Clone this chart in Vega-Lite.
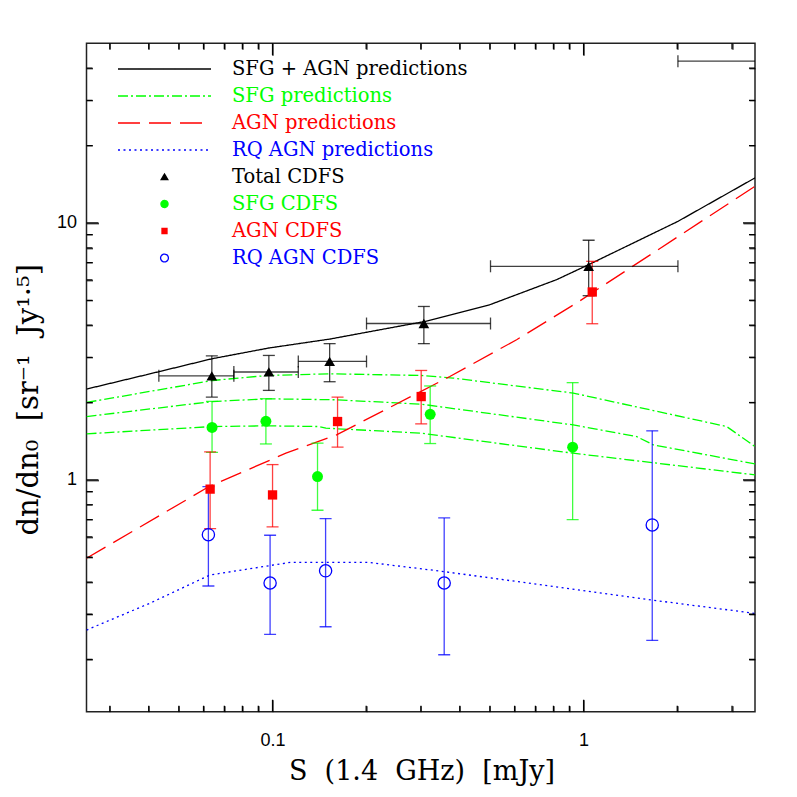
{
  "$schema": "https://vega.github.io/schema/vega-lite/v6.json",
  "width": 668.5,
  "height": 668.4,
  "autosize": {"type": "none"},
  "padding": {"left": 86.5, "top": 43.3, "right": 42, "bottom": 85.3},
  "background": "white",
  "datasets": {
    "curves": [
      {"series": "SFG + AGN predictions", "curve": "tot", "S": 0.02523, "N": 2.256},
      {"series": "SFG + AGN predictions", "curve": "tot", "S": 0.0434, "N": 2.642},
      {"series": "SFG + AGN predictions", "curve": "tot", "S": 0.0638, "N": 2.96},
      {"series": "SFG + AGN predictions", "curve": "tot", "S": 0.0973, "N": 3.26},
      {"series": "SFG + AGN predictions", "curve": "tot", "S": 0.153, "N": 3.533},
      {"series": "SFG + AGN predictions", "curve": "tot", "S": 0.3093, "N": 4.137},
      {"series": "SFG + AGN predictions", "curve": "tot", "S": 0.4997, "N": 4.806},
      {"series": "SFG + AGN predictions", "curve": "tot", "S": 0.8189, "N": 6.015},
      {"series": "SFG + AGN predictions", "curve": "tot", "S": 1.038, "N": 6.88},
      {"series": "SFG + AGN predictions", "curve": "tot", "S": 2.01, "N": 10.14},
      {"series": "SFG + AGN predictions", "curve": "tot", "S": 3.556, "N": 14.97},
      {"series": "SFG predictions", "curve": "sfg_up", "S": 0.02523, "N": 2.001},
      {"series": "SFG predictions", "curve": "sfg_up", "S": 0.0641, "N": 2.437},
      {"series": "SFG predictions", "curve": "sfg_up", "S": 0.0964, "N": 2.549},
      {"series": "SFG predictions", "curve": "sfg_up", "S": 0.1521, "N": 2.588},
      {"series": "SFG predictions", "curve": "sfg_up", "S": 0.2997, "N": 2.549},
      {"series": "SFG predictions", "curve": "sfg_up", "S": 0.3807, "N": 2.49},
      {"series": "SFG predictions", "curve": "sfg_up", "S": 0.926, "N": 2.177},
      {"series": "SFG predictions", "curve": "sfg_up", "S": 2.883, "N": 1.613},
      {"series": "SFG predictions", "curve": "sfg_up", "S": 3.556, "N": 1.348},
      {"series": "SFG predictions", "curve": "sfg_mid", "S": 0.02523, "N": 1.764},
      {"series": "SFG predictions", "curve": "sfg_mid", "S": 0.0641, "N": 2.018},
      {"series": "SFG predictions", "curve": "sfg_mid", "S": 0.0964, "N": 2.068},
      {"series": "SFG predictions", "curve": "sfg_mid", "S": 0.1598, "N": 2.05},
      {"series": "SFG predictions", "curve": "sfg_mid", "S": 0.2997, "N": 1.972},
      {"series": "SFG predictions", "curve": "sfg_mid", "S": 0.926, "N": 1.637},
      {"series": "SFG predictions", "curve": "sfg_mid", "S": 1.48, "N": 1.475},
      {"series": "SFG predictions", "curve": "sfg_mid", "S": 1.674, "N": 1.369},
      {"series": "SFG predictions", "curve": "sfg_mid", "S": 3.556, "N": 1.154},
      {"series": "SFG predictions", "curve": "sfg_lo", "S": 0.02523, "N": 1.511},
      {"series": "SFG predictions", "curve": "sfg_lo", "S": 0.0641, "N": 1.613},
      {"series": "SFG predictions", "curve": "sfg_lo", "S": 0.0964, "N": 1.623},
      {"series": "SFG predictions", "curve": "sfg_lo", "S": 0.1412, "N": 1.613},
      {"series": "SFG predictions", "curve": "sfg_lo", "S": 0.1484, "N": 1.59},
      {"series": "SFG predictions", "curve": "sfg_lo", "S": 0.2997, "N": 1.52},
      {"series": "SFG predictions", "curve": "sfg_lo", "S": 0.926, "N": 1.27},
      {"series": "SFG predictions", "curve": "sfg_lo", "S": 3.556, "N": 1.046},
      {"series": "AGN predictions", "curve": "agn", "S": 0.02523, "N": 0.4955},
      {"series": "AGN predictions", "curve": "agn", "S": 0.0625, "N": 0.942},
      {"series": "AGN predictions", "curve": "agn", "S": 0.1104, "N": 1.27},
      {"series": "AGN predictions", "curve": "agn", "S": 0.1606, "N": 1.497},
      {"series": "AGN predictions", "curve": "agn", "S": 0.3715, "N": 2.526},
      {"series": "AGN predictions", "curve": "agn", "S": 0.609, "N": 3.511},
      {"series": "AGN predictions", "curve": "agn", "S": 0.9495, "N": 4.88},
      {"series": "AGN predictions", "curve": "agn", "S": 2.01, "N": 8.84},
      {"series": "AGN predictions", "curve": "agn", "S": 3.556, "N": 13.89},
      {"series": "RQ AGN predictions", "curve": "rq", "S": 0.02523, "N": 0.2604},
      {"series": "RQ AGN predictions", "curve": "rq", "S": 0.0403, "N": 0.331},
      {"series": "RQ AGN predictions", "curve": "rq", "S": 0.0629, "N": 0.4265},
      {"series": "RQ AGN predictions", "curve": "rq", "S": 0.1145, "N": 0.4779},
      {"series": "RQ AGN predictions", "curve": "rq", "S": 0.2025, "N": 0.4779},
      {"series": "RQ AGN predictions", "curve": "rq", "S": 0.3581, "N": 0.4393},
      {"series": "RQ AGN predictions", "curve": "rq", "S": 1.661, "N": 0.3407},
      {"series": "RQ AGN predictions", "curve": "rq", "S": 3.556, "N": 0.3024}
    ],
    "pts": [
      {"series": "Total CDFS", "S": 0.0638, "N": 2.54, "lo": 2.1, "hi": 3.04, "xlo": 0.0431, "xhi": 0.0751},
      {"series": "Total CDFS", "S": 0.0973, "N": 2.63, "lo": 2.23, "hi": 3.05, "xlo": 0.0751, "xhi": 0.121},
      {"series": "Total CDFS", "S": 0.1526, "N": 2.89, "lo": 2.41, "hi": 3.39, "xlo": 0.121, "xhi": 0.2005},
      {"series": "Total CDFS", "S": 0.3065, "N": 4.06, "lo": 3.39, "hi": 4.73, "xlo": 0.2005, "xhi": 0.502},
      {"series": "Total CDFS", "S": 1.038, "N": 6.78, "lo": 5.21, "hi": 8.56, "xlo": 0.502, "xhi": 2.01},
      {"series": "Total CDFS", "S": 4.0, "N": 42.6, "lo": 35.0, "hi": 52.0, "xlo": 2.01, "xhi": 8.0},
      {"series": "SFG CDFS", "S": 0.0639, "N": 1.6, "lo": 1.28, "hi": 2.02},
      {"series": "SFG CDFS", "S": 0.0952, "N": 1.69, "lo": 1.38, "hi": 2.07},
      {"series": "SFG CDFS", "S": 0.1395, "N": 1.03, "lo": 0.762, "hi": 1.39},
      {"series": "SFG CDFS", "S": 0.3212, "N": 1.8, "lo": 1.385, "hi": 2.32},
      {"series": "SFG CDFS", "S": 0.922, "N": 1.34, "lo": 0.7, "hi": 2.39},
      {"series": "AGN CDFS", "S": 0.063, "N": 0.92, "lo": 0.646, "hi": 1.286},
      {"series": "AGN CDFS", "S": 0.1, "N": 0.874, "lo": 0.656, "hi": 1.147},
      {"series": "AGN CDFS", "S": 0.1618, "N": 1.687, "lo": 1.341, "hi": 2.1},
      {"series": "AGN CDFS", "S": 0.3005, "N": 2.11, "lo": 1.652, "hi": 2.666},
      {"series": "AGN CDFS", "S": 1.066, "N": 5.385, "lo": 4.052, "hi": 7.087},
      {"series": "RQ AGN CDFS", "S": 0.0622, "N": 0.612, "lo": 0.3865, "hi": 0.942},
      {"series": "RQ AGN CDFS", "S": 0.0982, "N": 0.397, "lo": 0.2506, "hi": 0.609},
      {"series": "RQ AGN CDFS", "S": 0.1481, "N": 0.443, "lo": 0.2683, "hi": 0.707},
      {"series": "RQ AGN CDFS", "S": 0.3563, "N": 0.397, "lo": 0.2087, "hi": 0.711},
      {"series": "RQ AGN CDFS", "S": 1.662, "N": 0.668, "lo": 0.2374, "hi": 1.552}
    ],
    "xticks": [
      {"v": 0.03, "k": "minor"}, {"v": 0.04, "k": "minor"}, {"v": 0.05, "k": "minor"}, {"v": 0.06, "k": "minor"},
      {"v": 0.07, "k": "minor"}, {"v": 0.08, "k": "minor"}, {"v": 0.09, "k": "minor"}, {"v": 0.1, "k": "major"},
      {"v": 0.2, "k": "minor"}, {"v": 0.3, "k": "minor"}, {"v": 0.4, "k": "minor"}, {"v": 0.5, "k": "minor"},
      {"v": 0.6, "k": "minor"}, {"v": 0.7, "k": "minor"}, {"v": 0.8, "k": "minor"}, {"v": 0.9, "k": "minor"},
      {"v": 1, "k": "major"}, {"v": 2, "k": "minor"}, {"v": 3, "k": "minor"}
    ],
    "yticks": [
      {"v": 0.2, "k": "minor"}, {"v": 0.3, "k": "minor"}, {"v": 0.4, "k": "minor"}, {"v": 0.5, "k": "minor"},
      {"v": 0.6, "k": "minor"}, {"v": 0.7, "k": "minor"}, {"v": 0.8, "k": "minor"}, {"v": 0.9, "k": "minor"},
      {"v": 1, "k": "major"}, {"v": 2, "k": "minor"}, {"v": 3, "k": "minor"}, {"v": 4, "k": "minor"},
      {"v": 5, "k": "minor"}, {"v": 6, "k": "minor"}, {"v": 7, "k": "minor"}, {"v": 8, "k": "minor"},
      {"v": 9, "k": "minor"}, {"v": 10, "k": "major"}, {"v": 20, "k": "minor"}, {"v": 30, "k": "minor"},
      {"v": 40, "k": "minor"}
    ]
  },
  "resolve": {"axis": {"x": "independent", "y": "independent"}},
  "layer": [
    {
      "data": {"name": "curves"},
      "mark": {"type": "line", "strokeWidth": 1.3, "clip": true},
      "encoding": {
        "x": {"field": "S", "type": "quantitative",
          "scale": {"type": "log", "domain": [0.02523, 3.556], "nice": false},
          "axis": {"orient": "bottom", "values": [0.1, 1],
            "labelExpr": "datum.value == 0.1 ? '0.1' : datum.value == 1 ? '1' : ''",
            "ticks": false, "domain": false, "labelPadding": 20,
            "title": "S\u00a0 (1.4\u00a0 GHz)\u00a0 [mJy]",
            "titleX": 335, "titleY": 68, "titleBaseline": "alphabetic", "titleAlign": "center"}},
        "y": {"field": "N", "type": "quantitative",
          "scale": {"type": "log", "domain": [0.1253, 50], "nice": false},
          "axis": {"orient": "left", "values": [1, 10],
            "labelExpr": "datum.value == 1 ? '1' : datum.value == 10 ? '10' : ''",
            "ticks": false, "domain": false, "labelPadding": 10,
            "title": "dn/dn₀\u00a0 [sr⁻¹\u00a0 Jy¹·⁵]", "titleFontSize": 29,
            "titleX": -58, "titleY": 356, "titleAngle": 270, "titleBaseline": "middle", "titleAlign": "center"}},
        "color": {"field": "series", "type": "nominal",
          "scale": {
            "domain": ["SFG + AGN predictions","SFG predictions","AGN predictions","RQ AGN predictions","Total CDFS","SFG CDFS","AGN CDFS","RQ AGN CDFS"],
            "range": ["#000000","#00ff00","#ff0000","#0000ff","#000000","#00ff00","#ff0000","#0000ff"]},
          "legend": {
            "orient": "none", "legendX": 68, "legendY": 15.7, "title": null,
            "padding": 0, "rowPadding": 7, "symbolSize": 346, "symbolStrokeWidth": 1.3,
            "labelFont": "DejaVu Serif", "labelFontSize": 19.5, "labelOffset": 57.5, "labelLimit": 500,
            "encode": {
              "symbols": {
                "update": {
                  "shape": {"signal": "indexof(['SFG + AGN predictions','SFG predictions','AGN predictions','RQ AGN predictions'], datum.value) >= 0 ? 'M-5,0L5,0' : datum.value == 'Total CDFS' ? 'M0,-0.33L0.36,0.29L-0.36,0.29Z' : datum.value == 'AGN CDFS' ? 'M-0.27,-0.27L0.27,-0.27L0.27,0.27L-0.27,0.27Z' : datum.value == 'SFG CDFS' ? 'M0.38,0A0.38,0.38,0,1,1,-0.38,0A0.38,0.38,0,1,1,0.38,0Z' : 'M0.42,0A0.42,0.42,0,1,1,-0.42,0A0.42,0.42,0,1,1,0.42,0Z'"},
                  "fill": {"signal": "indexof(['Total CDFS','SFG CDFS','AGN CDFS'], datum.value) >= 0 ? scale('color', datum.value) : 'transparent'"},
                  "fillOpacity": {"signal": "indexof(['Total CDFS','SFG CDFS','AGN CDFS'], datum.value) >= 0 ? 1 : 0"},
                  "stroke": {"signal": "scale('color', datum.value)"},
                  "strokeDash": {"signal": "datum.value == 'SFG predictions' ? [10,3,2,3] : datum.value == 'AGN predictions' ? [22,9] : datum.value == 'RQ AGN predictions' ? [2,3.5] : [1,0]"},
                  "strokeWidth": {"value": 1.3},
                  "size": {"value": 346},
                  "opacity": {"value": 1}
                }
              },
              "labels": {
                "update": {
                  "fill": {"signal": "scale('color', datum.value)"}
                }
              }
            }
          }},
        "strokeDash": {"field": "series", "type": "nominal",
          "scale": {"domain": ["SFG + AGN predictions","SFG predictions","AGN predictions","RQ AGN predictions"],
                    "range": [[1,0],[10,3,2,3],[22,9],[2,3.5]]},
          "legend": null},
        "detail": {"field": "curve"}
      }
    },
    {
      "data": {"name": "pts"},
      "mark": {"type": "errorbar", "ticks": true, "size": 12, "thickness": 1.3, "opacity": 0.75, "clip": true},
      "encoding": {
        "x": {"field": "S", "type": "quantitative", "scale": {"type": "log", "domain": [0.02523, 3.556], "nice": false}, "axis": null},
        "y": {"field": "lo", "type": "quantitative", "scale": {"type": "log", "domain": [0.1253, 50], "nice": false}, "axis": null},
        "y2": {"field": "hi"},
        "color": {"field": "series", "type": "nominal", "legend": null}
      }
    },
    {
      "data": {"name": "pts"},
      "transform": [{"filter": "datum.series == 'Total CDFS'"}],
      "mark": {"type": "errorbar", "ticks": true, "size": 12, "thickness": 1.3, "opacity": 0.75, "clip": true},
      "encoding": {
        "x": {"field": "xlo", "type": "quantitative", "scale": {"type": "log", "domain": [0.02523, 3.556], "nice": false}, "axis": null},
        "x2": {"field": "xhi"},
        "y": {"field": "N", "type": "quantitative", "scale": {"type": "log", "domain": [0.1253, 50], "nice": false}, "axis": null},
        "color": {"field": "series", "type": "nominal", "legend": null}
      }
    },
    {
      "data": {"name": "pts"},
      "transform": [{"filter": "datum.series == 'Total CDFS'"}],
      "mark": {"type": "point", "shape": "triangle-up", "filled": true, "size": 115, "opacity": 1, "clip": true},
      "encoding": {
        "x": {"field": "S", "type": "quantitative", "scale": {"type": "log", "domain": [0.02523, 3.556], "nice": false},
          "axis": {"orient": "bottom", "values": [0.1, 1], "ticks": true, "labels": false, "domain": false, "title": null, "tickSize": 12, "offset": -12, "tickColor": "black"}},
        "y": {"field": "N", "type": "quantitative", "scale": {"type": "log", "domain": [0.1253, 50], "nice": false},
          "axis": {"orient": "left", "values": [1, 10], "ticks": true, "labels": false, "domain": false, "title": null, "tickSize": 12, "offset": -12, "tickColor": "black"}},
        "color": {"field": "series", "type": "nominal", "legend": null}
      }
    },
    {
      "data": {"name": "pts"},
      "transform": [{"filter": "datum.series == 'SFG CDFS'"}],
      "mark": {"type": "point", "shape": "circle", "filled": true, "size": 120, "opacity": 1, "clip": true},
      "encoding": {
        "x": {"field": "S", "type": "quantitative", "scale": {"type": "log", "domain": [0.02523, 3.556], "nice": false},
          "axis": {"orient": "bottom", "values": [0.03,0.04,0.05,0.06,0.07,0.08,0.09,0.2,0.3,0.4,0.5,0.6,0.7,0.8,0.9,2,3], "ticks": true, "labels": false, "domain": false, "title": null, "tickSize": 6, "offset": -6, "tickColor": "black"}},
        "y": {"field": "N", "type": "quantitative", "scale": {"type": "log", "domain": [0.1253, 50], "nice": false},
          "axis": {"orient": "left", "values": [0.2,0.3,0.4,0.5,0.6,0.7,0.8,0.9,2,3,4,5,6,7,8,9,20,30,40], "ticks": true, "labels": false, "domain": false, "title": null, "tickSize": 6, "offset": -6, "tickColor": "black"}},
        "color": {"field": "series", "type": "nominal", "legend": null}
      }
    },
    {
      "data": {"name": "pts"},
      "transform": [{"filter": "datum.series == 'AGN CDFS'"}],
      "mark": {"type": "point", "shape": "square", "filled": true, "size": 87, "opacity": 1, "clip": true},
      "encoding": {
        "x": {"field": "S", "type": "quantitative", "scale": {"type": "log", "domain": [0.02523, 3.556], "nice": false},
          "axis": {"orient": "top", "values": [0.1, 1], "ticks": true, "labels": false, "domain": false, "title": null, "tickSize": 12, "offset": -12, "tickColor": "black"}},
        "y": {"field": "N", "type": "quantitative", "scale": {"type": "log", "domain": [0.1253, 50], "nice": false},
          "axis": {"orient": "right", "values": [1, 10], "ticks": true, "labels": false, "domain": false, "title": null, "tickSize": 12, "offset": -12, "tickColor": "black"}},
        "color": {"field": "series", "type": "nominal", "legend": null}
      }
    },
    {
      "data": {"name": "pts"},
      "transform": [{"filter": "datum.series == 'RQ AGN CDFS'"}],
      "mark": {"type": "point", "shape": "circle", "filled": false, "size": 150, "strokeWidth": 1.3, "opacity": 1, "clip": true},
      "encoding": {
        "x": {"field": "S", "type": "quantitative", "scale": {"type": "log", "domain": [0.02523, 3.556], "nice": false},
          "axis": {"orient": "top", "values": [0.03,0.04,0.05,0.06,0.07,0.08,0.09,0.2,0.3,0.4,0.5,0.6,0.7,0.8,0.9,2,3], "ticks": true, "labels": false, "domain": false, "title": null, "tickSize": 6, "offset": -6, "tickColor": "black"}},
        "y": {"field": "N", "type": "quantitative", "scale": {"type": "log", "domain": [0.1253, 50], "nice": false},
          "axis": {"orient": "right", "values": [0.2,0.3,0.4,0.5,0.6,0.7,0.8,0.9,2,3,4,5,6,7,8,9,20,30,40], "ticks": true, "labels": false, "domain": false, "title": null, "tickSize": 6, "offset": -6, "tickColor": "black"}},
        "color": {"field": "series", "type": "nominal", "legend": null}
      }
    },
    {
      "data": {"name": "xticks"},
      "transform": [{"filter": "datum.k == 'major'"}],
      "mark": {"type": "tick", "orient": "vertical", "size": 24, "thickness": 1.3, "color": "black", "opacity": 1, "clip": true},
      "encoding": {
        "x": {"field": "v", "type": "quantitative", "scale": {"type": "log", "domain": [0.02523, 3.556], "nice": false}, "axis": null},
        "y": {"datum": 0.1253, "type": "quantitative", "scale": {"type": "log", "domain": [0.1253, 50], "nice": false}, "axis": null}
      }
    },
    {
      "data": {"name": "xticks"},
      "transform": [{"filter": "datum.k == 'minor'"}],
      "mark": {"type": "tick", "orient": "vertical", "size": 12, "thickness": 1.3, "color": "black", "opacity": 1, "clip": true},
      "encoding": {
        "x": {"field": "v", "type": "quantitative", "scale": {"type": "log", "domain": [0.02523, 3.556], "nice": false}, "axis": null},
        "y": {"datum": 0.1253, "type": "quantitative", "scale": {"type": "log", "domain": [0.1253, 50], "nice": false}, "axis": null}
      }
    },
    {
      "data": {"name": "xticks"},
      "transform": [{"filter": "datum.k == 'major'"}],
      "mark": {"type": "tick", "orient": "vertical", "size": 24, "thickness": 1.3, "color": "black", "opacity": 1, "clip": true},
      "encoding": {
        "x": {"field": "v", "type": "quantitative", "scale": {"type": "log", "domain": [0.02523, 3.556], "nice": false}, "axis": null},
        "y": {"datum": 50, "type": "quantitative", "scale": {"type": "log", "domain": [0.1253, 50], "nice": false}, "axis": null}
      }
    },
    {
      "data": {"name": "xticks"},
      "transform": [{"filter": "datum.k == 'minor'"}],
      "mark": {"type": "tick", "orient": "vertical", "size": 12, "thickness": 1.3, "color": "black", "opacity": 1, "clip": true},
      "encoding": {
        "x": {"field": "v", "type": "quantitative", "scale": {"type": "log", "domain": [0.02523, 3.556], "nice": false}, "axis": null},
        "y": {"datum": 50, "type": "quantitative", "scale": {"type": "log", "domain": [0.1253, 50], "nice": false}, "axis": null}
      }
    },
    {
      "data": {"name": "yticks"},
      "transform": [{"filter": "datum.k == 'major'"}],
      "mark": {"type": "tick", "orient": "horizontal", "size": 24, "thickness": 1.3, "color": "black", "opacity": 1, "clip": true},
      "encoding": {
        "x": {"datum": 0.02523, "type": "quantitative", "scale": {"type": "log", "domain": [0.02523, 3.556], "nice": false}, "axis": null},
        "y": {"field": "v", "type": "quantitative", "scale": {"type": "log", "domain": [0.1253, 50], "nice": false}, "axis": null}
      }
    },
    {
      "data": {"name": "yticks"},
      "transform": [{"filter": "datum.k == 'minor'"}],
      "mark": {"type": "tick", "orient": "horizontal", "size": 12, "thickness": 1.3, "color": "black", "opacity": 1, "clip": true},
      "encoding": {
        "x": {"datum": 0.02523, "type": "quantitative", "scale": {"type": "log", "domain": [0.02523, 3.556], "nice": false}, "axis": null},
        "y": {"field": "v", "type": "quantitative", "scale": {"type": "log", "domain": [0.1253, 50], "nice": false}, "axis": null}
      }
    },
    {
      "data": {"name": "yticks"},
      "transform": [{"filter": "datum.k == 'major'"}],
      "mark": {"type": "tick", "orient": "horizontal", "size": 24, "thickness": 1.3, "color": "black", "opacity": 1, "clip": true},
      "encoding": {
        "x": {"datum": 3.556, "type": "quantitative", "scale": {"type": "log", "domain": [0.02523, 3.556], "nice": false}, "axis": null},
        "y": {"field": "v", "type": "quantitative", "scale": {"type": "log", "domain": [0.1253, 50], "nice": false}, "axis": null}
      }
    },
    {
      "data": {"name": "yticks"},
      "transform": [{"filter": "datum.k == 'minor'"}],
      "mark": {"type": "tick", "orient": "horizontal", "size": 12, "thickness": 1.3, "color": "black", "opacity": 1, "clip": true},
      "encoding": {
        "x": {"datum": 3.556, "type": "quantitative", "scale": {"type": "log", "domain": [0.02523, 3.556], "nice": false}, "axis": null},
        "y": {"field": "v", "type": "quantitative", "scale": {"type": "log", "domain": [0.1253, 50], "nice": false}, "axis": null}
      }
    }
  ],
  "config": {
    "view": {"stroke": "#222222", "strokeWidth": 1.5},
    "axis": {
      "gridOpacity": 0,
      "labelFont": "Liberation Sans", "labelFontSize": 18, "labelColor": "#000000",
      "titleFont": "DejaVu Serif", "titleFontSize": 27, "titleFontWeight": "normal", "titleColor": "#000000"
    }
  }
}
